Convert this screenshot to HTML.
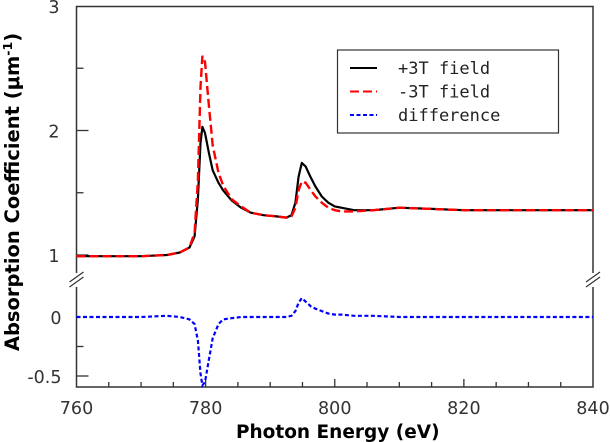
<!DOCTYPE html>
<html><head><meta charset="utf-8"><style>
body{margin:0;background:#fff;}
svg{display:block;font-family:"DejaVu Sans","Liberation Sans",sans-serif;}
</style></head><body>
<svg id="chart" width="610" height="442" viewBox="0 0 610 442"></svg>
<script>
const energy =   [760,765,770,774,776,777.5,778.3,778.8,779.2,779.5,779.9,780.5,781.1,782,782.7,784,785.5,787,789,791,792.5,793.3,793.9,794.4,794.9,795.5,796.3,797,798,799,800,801,803,806,810,815,820,830,840];
const plus3 =    [0.99,0.99,0.99,1.0,1.02,1.06,1.15,1.45,1.9,2.03,1.98,1.82,1.68,1.58,1.52,1.44,1.38,1.34,1.32,1.31,1.30,1.32,1.42,1.63,1.74,1.71,1.62,1.55,1.47,1.42,1.39,1.38,1.36,1.36,1.38,1.37,1.36,1.36,1.36];
const minus3 =   [0.99,0.99,0.99,1.0,1.02,1.06,1.18,1.6,2.35,2.60,2.55,2.2,1.88,1.66,1.56,1.45,1.39,1.34,1.32,1.31,1.30,1.31,1.38,1.52,1.59,1.58,1.52,1.47,1.42,1.38,1.36,1.35,1.35,1.36,1.38,1.37,1.36,1.36,1.36];
const difference=[0,0,0,0.01,0,-0.02,-0.06,-0.2,-0.48,-0.58,-0.55,-0.36,-0.18,-0.06,-0.02,-0.01,0,0,0,0,0,0.01,0.05,0.12,0.16,0.13,0.09,0.07,0.05,0.03,0.02,0.02,0.01,0.01,0,0,0,0,0];
const xTicks=[760,780,800,820,840];
const upperTicks=[1,2,3];
const lowerTicks=[-0.5,0];

const L=76.5,R=593,T=6.5,B=387,BRK=280;
const X=v=>L+(v-760)*(R-L)/80;
const YU=v=>255-(v-1)*124.5;
const YL=v=>317-v*118;
const svg=document.getElementById('chart');
const NS='http://www.w3.org/2000/svg';
function el(tag,attrs,parent){const e=document.createElementNS(NS,tag);for(const k in attrs)e.setAttribute(k,attrs[k]);(parent||svg).appendChild(e);return e;}

const frame=el('path',{d:`M${L},${T}H${R}V${B}H${L}Z`,fill:'none',stroke:'#333','stroke-width':1.5});


[L,R].forEach((x,i)=>{
 const g=el('g',{});
 
 
 el('rect',{x:x-6,y:BRK-7,width:12,height:14,fill:'#fff'},g);
 el('line',{x1:x-7,y1:BRK+2,x2:x+7,y2:BRK-8,stroke:'#333','stroke-width':1.2},g);
 el('line',{x1:x-7,y1:BRK+7,x2:x+7,y2:BRK-3,stroke:'#333','stroke-width':1.2},g);
});
for(let v=765;v<840;v+=5){const big=v%20===0;const t=el('line',{x1:X(v),x2:X(v),y1:B,y2:B-(big?8:5),stroke:'#333','stroke-width':1.3});}
xTicks.forEach(v=>{const t=el('text',{x:X(v),y:B+27,'text-anchor':'middle','font-size':17.5,fill:'#333'});t.textContent=v;});
[1,1.5,2,2.5].forEach(v=>{const t=el('line',{x1:L,x2:L+(v%1===0?12:7),y1:YU(v),y2:YU(v),stroke:'#333','stroke-width':1.3});});
[-0.5,-0.25].forEach(v=>{const t=el('line',{x1:L,x2:L+(v===-0.5?12:7),y1:YL(v),y2:YL(v),stroke:'#333','stroke-width':1.3});});
upperTicks.forEach(v=>{const t=el('text',{x:L-17,y:YU(v)+7,'text-anchor':'end','font-size':17.5,fill:'#333'});t.textContent=v;});
lowerTicks.forEach(v=>{const t=el('text',{x:L-15,y:YL(v)+7,'text-anchor':'end','font-size':17.5,fill:'#333'});t.textContent=v;});
const xt=el('text',{x:(L+R)/2+3,y:438,'text-anchor':'middle','font-size':18.5,'font-weight':'bold',fill:'#000'});
xt.textContent='Photon Energy (eV)';

const yt=el('text',{transform:'translate(19,192) rotate(-90)','text-anchor':'middle','font-size':19.5,'font-weight':'bold',fill:'#000'});
yt.innerHTML='Absorption Coefficient (μm<tspan dy="-7" font-size="12.5">-1</tspan><tspan dy="7">)</tspan>';

function path(vals,Y){return vals.map((v,i)=>(i?'L':'M')+X(energy[i]).toFixed(1)+','+Y(v).toFixed(1)).join('');}
const p1=el('path',{d:path(plus3,YU),fill:'none',stroke:'#000','stroke-width':2.2,'stroke-linejoin':'round'});

const p2=el('path',{d:path(minus3,YU),fill:'none',stroke:'#f00','stroke-width':2.4,'stroke-dasharray':'9,4'});

const p3=el('path',{d:path(difference,YL),fill:'none',stroke:'#00f','stroke-width':2.2,'stroke-dasharray':'4,2.5'});

const lg=el('g',{});

el('rect',{x:337.5,y:50,width:221,height:83,fill:'#fff',stroke:'#333','stroke-width':1.2},lg);
[['+3T field','#000',''],['-3T field','#f00','9,4'],['difference','#00f','4,2.5']].forEach((e,i)=>{
 const g=el('g',{},lg);
 
 const y=68+i*23.5;
 el('line',{x1:350,x2:377,y1:y,y2:y,stroke:e[1],'stroke-width':2,'stroke-dasharray':e[2]},g);
 const t=el('text',{x:398,y:y+6,'font-size':17,'font-family':'"DejaVu Sans Mono","Liberation Mono",monospace',fill:'#222'},g);
 t.textContent=e[0];
});
</script>
</body></html>
